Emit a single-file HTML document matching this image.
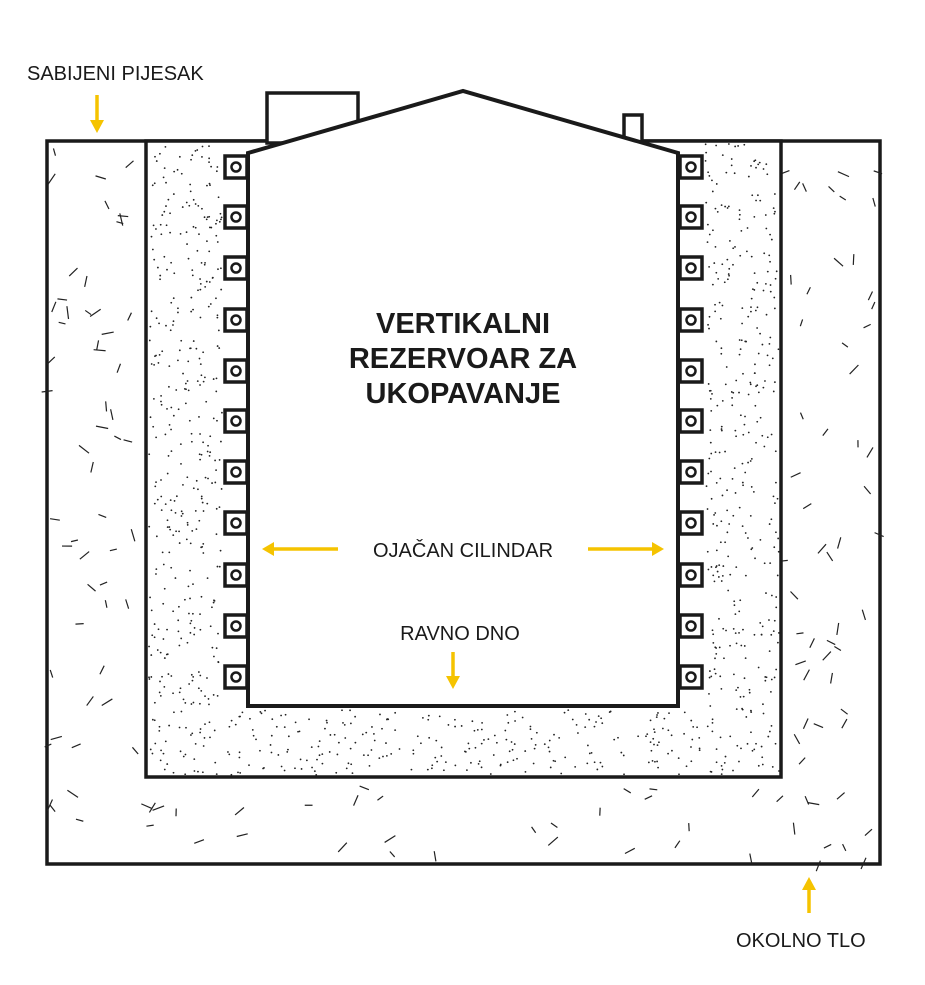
<!DOCTYPE html>
<html><head><meta charset="utf-8"><style>
html,body{margin:0;padding:0;background:#fff;width:925px;height:985px;overflow:hidden}
svg{display:block}
text{font-family:"Liberation Sans",sans-serif}
</style></head><body>
<svg id="s" width="925" height="985" viewBox="0 0 925 985" xmlns="http://www.w3.org/2000/svg">
<rect x="47" y="141" width="833" height="723" fill="#fff" stroke="#1a1a1a" stroke-width="3.5"/>
<g id="dash" stroke="#222" stroke-width="1.2"></g>
<rect x="146" y="141" width="635" height="636" fill="#fff" stroke="#1a1a1a" stroke-width="3.5"/>
<g id="dots" fill="#222"></g>
<rect x="267" y="93" width="91" height="50" fill="#fff" stroke="#1a1a1a" stroke-width="3.5"/>
<rect x="624" y="115" width="18" height="28" fill="#fff" stroke="#1a1a1a" stroke-width="3.5"/>
<polygon points="248,153 463,91 678,153 678,706 248,706" fill="#fff" stroke="#1a1a1a" stroke-width="4"/>
<g id="bolts"></g>
<text x="463" y="333" text-anchor="middle" font-size="29" font-weight="bold" fill="#1a1a1a">VERTIKALNI</text>
<text x="463" y="368" text-anchor="middle" font-size="29" font-weight="bold" fill="#1a1a1a">REZERVOAR ZA</text>
<text x="463" y="403" text-anchor="middle" font-size="29" font-weight="bold" fill="#1a1a1a">UKOPAVANJE</text>
<text x="463" y="557" text-anchor="middle" font-size="20" fill="#1a1a1a">OJAČAN CILINDAR</text>
<text x="460" y="640" text-anchor="middle" font-size="20" fill="#1a1a1a">RAVNO DNO</text>
<text x="27" y="80" font-size="20" fill="#1a1a1a">SABIJENI PIJESAK</text>
<text x="736" y="947" font-size="20" fill="#1a1a1a">OKOLNO TLO</text>
<g stroke="#f5c300" stroke-width="3.5" fill="#f5c300">
<line x1="338" y1="549" x2="272" y2="549"/><polygon points="262,549 274,542 274,556" stroke="none"/>
<line x1="588" y1="549" x2="654" y2="549"/><polygon points="664,549 652,542 652,556" stroke="none"/>
<line x1="453" y1="652" x2="453" y2="678"/><polygon points="453,689 446,676 460,676" stroke="none"/>
<line x1="97" y1="95" x2="97" y2="122"/><polygon points="97,133 90,120 104,120" stroke="none"/>
<line x1="809" y1="913" x2="809" y2="888"/><polygon points="809,877 802,890 816,890" stroke="none"/>
</g>
</svg>
<script>
var ns="http://www.w3.org/2000/svg";
var seed=7;function r(){seed=(seed*16807)%2147483647;return seed/2147483647;}
var d=document.getElementById("dash");
for(var i=0;i<420;i++){var x=50+r()*828,y=144+r()*718;
 if(x>140&&x<787&&y<783)continue;
 var a=r()*Math.PI,l=7+r()*6;var e=document.createElementNS(ns,"line");
 e.setAttribute("x1",x);e.setAttribute("y1",y);e.setAttribute("x2",x+Math.cos(a)*l);e.setAttribute("y2",y+Math.sin(a)*l);d.appendChild(e);}
var g=document.getElementById("dots");
for(var i=0;i<3200;i++){var x=149+r()*630,y=144+r()*631;
 if(x>222&&x<705&&y<710)continue;
 var c=document.createElementNS(ns,"circle");c.setAttribute("cx",x);c.setAttribute("cy",y);c.setAttribute("r",0.9);g.appendChild(c);}
var b=document.getElementById("bolts");
var ys=[167,217,268,320,371,421,472,523,575,626,677];
ys.forEach(function(y){[236,691].forEach(function(x){
 var q=document.createElementNS(ns,"rect");q.setAttribute("x",x-11);q.setAttribute("y",y-11);q.setAttribute("width",22);q.setAttribute("height",22);
 q.setAttribute("fill","#fff");q.setAttribute("stroke","#1a1a1a");q.setAttribute("stroke-width",3.5);b.appendChild(q);
 var c=document.createElementNS(ns,"circle");c.setAttribute("cx",x);c.setAttribute("cy",y);c.setAttribute("r",4.5);
 c.setAttribute("fill","none");c.setAttribute("stroke","#1a1a1a");c.setAttribute("stroke-width",2.5);b.appendChild(c);});});
</script>
</body></html>
